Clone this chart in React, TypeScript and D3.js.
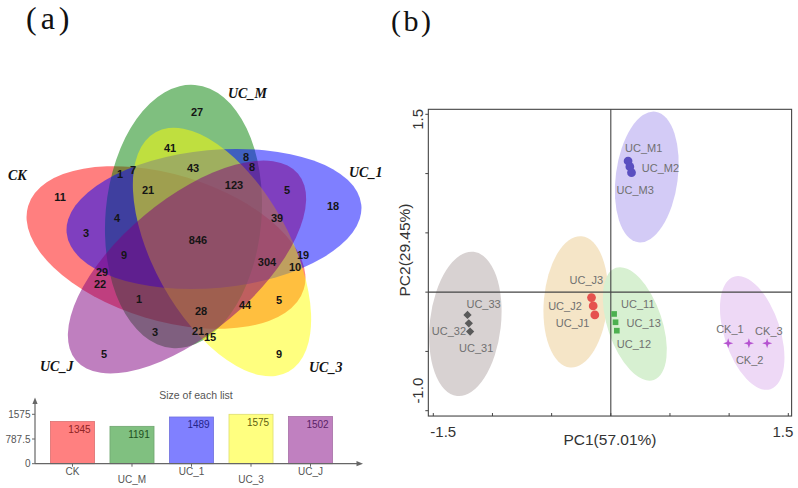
import React from 'react';
import * as d3 from 'd3';

const W = 798;
const H = 488;

// ---------------- (a) Venn diagram ----------------
const vennSets = ['CK', 'UC_M', 'UC_1', 'UC_3', 'UC_J'];
const vennFill = ['#FF0000', '#008000', '#0000FF', '#FFFF00', '#800080'];
// ellipse geometry in diagram units (1 unit = 100 px), relative to diagram centre
const ellCx = [-0.28, -0.105, 0.2, 0.28, -0.07];
const ellCy = [0.075, -0.235, -0.21, 0.12, 0.27];
const ellRx = [1.44, 0.78, 1.48, 1.37, 1.45];
const ellRy = [0.73, 1.32, 0.69, 0.68, 0.67];
const ellRot = [16.8, 5, -5.4, 61, -40];
const setLabelX = [-1.86, 0.34, 1.55, 1.15, -1.54];
const setLabelY = [-0.6, -1.42, -0.63, 1.32, 1.31];

const regionCounts = [27, 41, 8, 8, 1, 7, 43, 21, 123, 5, 18, 11, 3, 4, 39, 846, 9, 304, 19, 10, 29, 22, 1, 28, 44, 5, 3, 21, 15, 9, 5];
const regionX = [0.03, -0.24, 0.52, 0.58, -0.74, -0.61, -0.01, -0.46, 0.4, 0.93, 1.39, -1.34, -1.08, -0.77, 0.83, 0.04, -0.7, 0.73, 1.09, 1.01, -0.92, -0.94, -0.55, 0.07, 0.51, 0.85, -0.39, 0.04, 0.16, 0.85, -0.9];
const regionY = [-1.28, -0.92, -0.83, -0.73, -0.66, -0.7, -0.72, -0.5, -0.55, -0.5, -0.34, -0.43, -0.07, -0.22, -0.22, 0, 0.15, 0.22, 0.15, 0.27, 0.32, 0.44, 0.59, 0.71, 0.65, 0.6, 0.92, 0.91, 0.97, 1.14, 1.14];

// ---------------- bar chart "Size of each list" ----------------
const listSizes = [1345, 1191, 1489, 1575, 1502];
const barFill = ['#FF8080', '#80C080', '#8080FF', '#FFFF80', '#C080C0'];
const barText = ['#8E2424', '#1E4E1E', '#25258A', '#5E5E10', '#5A2266'];
const barTicks = [0, 787.5, 1575];
const barTickLabels = ['0', '787.5', '1575'];

// ---------------- (b) PCA ----------------
const groups = ['UC_M', 'UC_J', 'UC_1', 'UC_3', 'CK'];
const groupColor = ['#5A4FC0', '#E5514E', '#4DB050', '#5A5A5A', '#B552D0'];
const groupShape = ['circle', 'circle', 'square', 'diamond', 'star'];
const ellFill = ['#D3CBF6', '#F5E5C7', '#D7F0D1', '#D8D2D2', '#EED9F6'];
const ellCenterX = [0.304, -0.296, 0.203, -1.229, 1.195];
const ellCenterY = [0.971, -0.082, -0.268, -0.268, -0.344];
const ellRadX = [0.262, 0.27, 0.23, 0.3, 0.236];
const ellRadY = [0.557, 0.557, 0.5, 0.613, 0.5];
const ellAngle = [7.5, 5, -18.7, 6.6, -18];

const sampleNames = ['UC_M1', 'UC_M2', 'UC_M3', 'UC_J3', 'UC_J2', 'UC_J1', 'UC_11', 'UC_13', 'UC_12', 'UC_33', 'UC_32', 'UC_31', 'CK_1', 'CK_2', 'CK_3'];
const sampleGroup = [0, 0, 0, 1, 1, 1, 2, 2, 2, 3, 3, 3, 4, 4, 4];
const samplePC1 = [0.146, 0.161, 0.175, -0.163, -0.149, -0.135, 0.028, 0.04, 0.051, -1.211, -1.2, -1.189, 0.992, 1.167, 1.321];
const samplePC2 = [1.106, 1.058, 1.008, -0.046, -0.116, -0.192, -0.184, -0.254, -0.325, -0.192, -0.263, -0.333, -0.431, -0.431, -0.431];
// label offsets in px (start anchor, baseline)
const labelDx = [-3, 12, -15, -22, -45, -39, 7, 11, 0, -1, -37, -11, -12, -13, -12];
const labelDy = [-9, 5, 21, -14, 4, 12, -6, 5, 17, -7, 12, 20, -10, 21, -8];

const pcTicks = [-1.5, -1, -0.5, 0, 0.5, 1, 1.5];
const pc2Ticks = [-1, -0.5, 0, 0.5, 1, 1.5];

const symbolStar4 = {
  draw(context: any, size: number) {
    const r = Math.sqrt(size) * 0.75;
    const ri = r * 0.32;
    for (let i = 0; i < 8; i++) {
      const a = (i * Math.PI) / 4 - Math.PI / 2;
      const rr = i % 2 === 0 ? r : ri;
      const x = rr * Math.cos(a);
      const y = rr * Math.sin(a);
      if (i === 0) context.moveTo(x, y);
      else context.lineTo(x, y);
    }
    context.closePath();
  },
};

const SANS = 'Liberation Sans, Arial, sans-serif';
const SERIF = 'Liberation Serif, Times New Roman, serif';

export default function App() {
  // Venn scales
  const vx = d3.scaleLinear().domain([0, 1]).range([194, 294]);
  const vy = d3.scaleLinear().domain([0, 1]).range([240, 340]);
  const vu = (r: number) => vx(r) - vx(0);

  // bar chart scales
  const bx = d3.scaleBand<string>().domain(vennSets).range([35, 348]).paddingInner(0.26).paddingOuter(0.26);
  const by = d3.scaleLinear().domain([0, 1575]).range([463.7, 414.3]);
  const bx0 = 35;
  const byBase = by(0);

  // PCA scales
  const px = d3.scaleLinear().domain([-1.5, 1.5]).range([433.3, 788.3]);
  const py = d3.scaleLinear().domain([-1, 1.5]).range([410.7, 114.3]);
  const pu = (r: number) => px(r) - px(0);
  const boxL = px(-1.542);
  const boxR = px(1.528);
  const boxT = py(1.542);
  const boxB = py(-1.045);

  const symPath = (shape: string) => {
    if (shape === 'circle') return d3.symbol().type(d3.symbolCircle).size(60)() as string;
    if (shape === 'square') return d3.symbol().type(d3.symbolSquare).size(32)() as string;
    if (shape === 'diamond') return d3.symbol().type(d3.symbolSquare).size(34)() as string;
    return d3.symbol().type(symbolStar4 as any).size(46)() as string;
  };

  return (
    <svg width={W} height={H} style={{ position: 'absolute', left: 0, top: 0, background: '#fff' }}>
      <rect x={0} y={0} width={W} height={H} fill="#fff" />

      {/* panel labels */}
      <text x={26} y={29} fontFamily={SERIF} fontSize={32} letterSpacing={4} fill="#111">(a)</text>
      <text x={391} y={31} fontFamily={SERIF} fontSize={30} letterSpacing={2.5} fill="#111">(b)</text>

      {/* ---------- Venn ---------- */}
      <g>
        {vennSets.map((s, i) => (
          <ellipse
            key={s}
            cx={0}
            cy={0}
            rx={vu(ellRx[i])}
            ry={vu(ellRy[i])}
            transform={`translate(${vx(ellCx[i])},${vy(ellCy[i])}) rotate(${ellRot[i]})`}
            fill={vennFill[i]}
            fillOpacity={0.5}
          />
        ))}
        {regionCounts.map((c, i) => (
          <text
            key={i}
            x={vx(regionX[i])}
            y={vy(regionY[i]) + 4}
            textAnchor="middle"
            fontFamily={SANS}
            fontWeight="bold"
            fontSize={11}
            fill="#151515"
          >
            {c}
          </text>
        ))}
        {vennSets.map((s, i) => (
          <text
            key={s}
            x={vx(setLabelX[i])}
            y={vy(setLabelY[i])}
            fontFamily={SERIF}
            fontStyle="italic"
            fontWeight="bold"
            fontSize={14}
            fill="#111"
          >
            {s}
          </text>
        ))}
      </g>

      {/* ---------- bar chart ---------- */}
      <g fontFamily={SANS} fontSize={10}>
        <text x={196} y={399} textAnchor="middle" fill="#555" fontSize={10.5}>Size of each list</text>
        {vennSets.map((s, i) => (
          <rect
            key={s}
            x={bx(s)}
            y={by(listSizes[i])}
            width={bx.bandwidth()}
            height={byBase - by(listSizes[i])}
            fill={barFill[i]}
            stroke={d3.color(barFill[i])!.darker(0.4).formatHex()}
            strokeWidth={0.8}
          />
        ))}
        {vennSets.map((s, i) => (
          <text
            key={s}
            x={(bx(s) as number) + bx.bandwidth() / 2 + 7}
            y={by(listSizes[i]) + 11.5}
            textAnchor="middle"
            fill={barText[i]}
          >
            {listSizes[i]}
          </text>
        ))}
        {/* axes */}
        <line x1={bx0} x2={bx0} y1={byBase} y2={402} stroke="#666" strokeWidth={1.2} />
        <path d={`M${bx0},397.5 L${bx0 - 2.6},404 L${bx0 + 2.6},404 Z`} fill="#666" />
        <line x1={bx0} x2={358} y1={byBase} y2={byBase} stroke="#666" strokeWidth={1.2} />
        <path d={`M363,${byBase} L356.5,${byBase - 2.6} L356.5,${byBase + 2.6} Z`} fill="#666" />
        {barTicks.map((t, i) => (
          <g key={t}>
            <line x1={bx0 - 3} x2={bx0} y1={by(t)} y2={by(t)} stroke="#666" />
            <text x={bx0 - 4.5} y={by(t) + 3.5} textAnchor="end" fill="#555">{barTickLabels[i]}</text>
          </g>
        ))}
        {vennSets.map((s, i) => {
          const cx = (bx(s) as number) + bx.bandwidth() / 2;
          return (
            <g key={s}>
              <line x1={cx} x2={cx} y1={byBase} y2={byBase + 3} stroke="#666" />
              <text x={cx} y={byBase + (i % 2 === 0 ? 11.5 : 19.5)} textAnchor="middle" fill="#555">{s}</text>
            </g>
          );
        })}
      </g>

      {/* ---------- PCA ---------- */}
      <g>
        {groups.map((g, i) => (
          <ellipse
            key={g}
            cx={0}
            cy={0}
            rx={pu(ellRadX[i])}
            ry={pu(ellRadY[i])}
            transform={`translate(${px(ellCenterX[i])},${py(ellCenterY[i])}) rotate(${ellAngle[i]})`}
            fill={ellFill[i]}
          />
        ))}
        <line x1={px(0)} x2={px(0)} y1={boxT} y2={boxB} stroke="#444" strokeWidth={1.1} />
        <line x1={boxL} x2={boxR} y1={py(0)} y2={py(0)} stroke="#444" strokeWidth={1.1} />
        <rect x={boxL} y={boxT} width={boxR - boxL} height={boxB - boxT} fill="none" stroke="#444" strokeWidth={1.1} />
        {pcTicks.map((t) => (
          <line key={t} x1={px(t)} x2={px(t)} y1={boxB} y2={boxB - 3} stroke="#444" />
        ))}
        {pc2Ticks.map((t) => (
          <line key={t} x1={boxL - 3} x2={boxL} y1={py(t)} y2={py(t)} stroke="#444" />
        ))}
        <text x={px(-1.5) - 3} y={437} fontFamily={SANS} fontSize={15} fill="#333">-1.5</text>
        <text x={px(1.5) + 5} y={437} textAnchor="end" fontFamily={SANS} fontSize={15} fill="#333">1.5</text>
        <text x={610} y={445} textAnchor="middle" fontFamily={SANS} fontSize={15.5} fill="#333">PC1(57.01%)</text>
        <text transform={`translate(423,${py(1.5) + 5}) rotate(-90)`} textAnchor="middle" fontFamily={SANS} fontSize={15} fill="#333">1.5</text>
        <text transform={`translate(423,${py(-1) - 20}) rotate(-90)`} textAnchor="middle" fontFamily={SANS} fontSize={15} fill="#333">-1.0</text>
        <text transform={`translate(410,250) rotate(-90)`} textAnchor="middle" fontFamily={SANS} fontSize={15.5} fill="#333">PC2(29.45%)</text>

        {sampleNames.map((n, i) => {
          const g = sampleGroup[i];
          const shape = groupShape[g];
          return (
            <path
              key={n}
              d={symPath(shape)}
              transform={`translate(${px(samplePC1[i])},${py(samplePC2[i])})${shape === 'diamond' ? ' rotate(45)' : ''}`}
              fill={groupColor[g]}
            />
          );
        })}
        {sampleNames.map((n, i) => (
          <text
            key={n}
            x={px(samplePC1[i]) + labelDx[i]}
            y={py(samplePC2[i]) + labelDy[i]}
            fontFamily={SANS}
            fontSize={11}
            fill="#707070"
          >
            {n}
          </text>
        ))}
      </g>
    </svg>
  );
}
